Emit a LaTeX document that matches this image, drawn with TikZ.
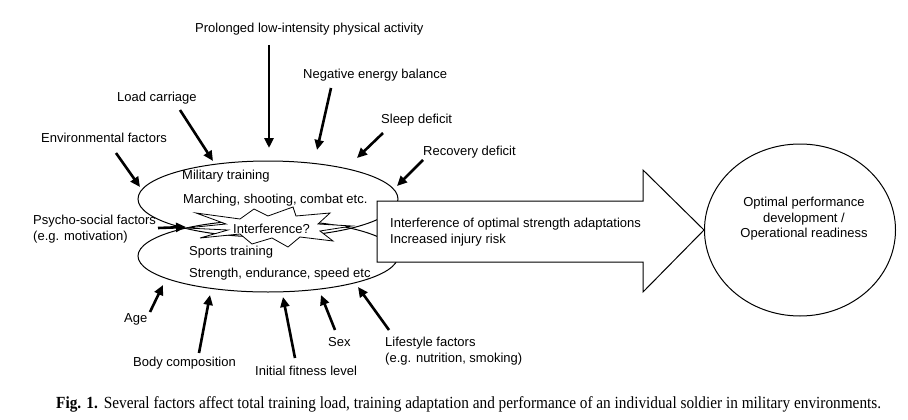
\documentclass[tikz,border=0pt]{standalone}
\usepackage{fontspec}
\setmainfont{Liberation Sans}
\newfontfamily\legende[FakeStretch=0.9]{Liberation Serif}
\usetikzlibrary{arrows.meta,shapes.geometric}
\tikzset{
  etiq/.style={anchor=base west,inner sep=0pt,font=\fontsize{13}{15}\selectfont},
  bloc/.style={anchor=west,inner sep=0pt,align=left,font=\fontsize{13}{15.5}\selectfont},
  pousse/.style={-{Triangle[length=10pt,width=9pt]},line width=2.6pt},
  ovale/.style={draw,ellipse,line width=1pt,minimum width=260pt,minimum height=76pt,inner sep=0pt},
}

\begin{document}
\begin{tikzpicture}[x=1pt,y=-1pt]
  \useasboundingbox[fill=white] (0,0) rectangle (908,420);
  \node[ovale] (mil) at (268,199) {};
  \node[ovale,minimum height=72pt] (spo) at (268,256) {};
  \draw[line width=0.8pt,fill=white] (186,228) -- (226,224) -- (196,213) -- (240,219) -- (254,209) -- (268,216)
    -- (293,207) -- (296,216) -- (330,213) -- (318,224) -- (352,226) -- (320,231) -- (333,241) -- (300,237)
    -- (288,247) -- (272,238) -- (252,244) -- (240,234) -- (200,238) -- (228,230) -- cycle;
  \node[etiq] (inter) at (233,233) {Interference?};
  \node[etiq] (miltxt) at (182,179) {Military training};
  \node[etiq] (milex) at (183,203) {Marching, shooting, combat etc.};
  \node[etiq] (spotxt) at (189,255) {Sports training};
  \node[etiq] (spoex) at (189,277) {Strength, endurance, speed etc};
  \node[draw,ellipse,line width=1pt,minimum width=191pt,minimum height=172pt] (goal) at (800,230) {};
  \node[bloc,anchor=center,align=center] (goaltxt) at (804,219) {Optimal performance\\development /\\Operational readiness};
  \draw[line width=1pt,fill=white] (377,201) -- (643,201) -- (643,170) -- (goal.west) -- (643,292) -- (643,262)
    -- (377,262) -- cycle;
  \node[bloc,font=\fontsize{13}{16}\selectfont] (effet) at (390,232.5) {Interference of optimal strength adaptations\\Increased injury risk};
  \node[etiq] (prol) at (195,33) {Prolonged low-intensity physical activity};
  \node[etiq] (neg) at (303,78) {Negative energy balance};
  \node[etiq] (load) at (117,101) {Load carriage};
  \node[etiq] (sleep) at (381,123) {Sleep deficit};
  \node[etiq] (env) at (41,142) {Environmental factors};
  \node[etiq] (reco) at (423,155) {Recovery deficit};
  \node[bloc] (psy) at (33,229) {Psycho-social factors\\(e.g. motivation)};
  \node[etiq] (age) at (124,322) {Age};
  \node[etiq] (body) at (133,366) {Body composition};
  \node[etiq] (init) at (255,375) {Initial fitness level};
  \node[etiq] (sex) at (328,346) {Sex};
  \node[bloc,font=\fontsize{13}{16}\selectfont] (life) at (385,351.5) {Lifestyle factors\\(e.g. nutrition, smoking)};
  \coordinate (prol-a) at (269,45);  \coordinate (prol-b) at (269,148);
  \coordinate (neg-a) at (331,88);   \coordinate (neg-b) at (317,150);
  \coordinate (load-a) at (180,110); \coordinate (load-b) at (213,161);
  \coordinate (sleep-a) at (383,133); \coordinate (sleep-b) at (357,158);
  \coordinate (env-a) at (116,153);  \coordinate (env-b) at (140,187);
  \coordinate (reco-a) at (423,160); \coordinate (reco-b) at (397,186);
  \coordinate (psy-a) at (158,228);  \coordinate (psy-b) at (186,227);
  \coordinate (age-a) at (150,312);  \coordinate (age-b) at (163,285);
  \coordinate (body-a) at (199,353); \coordinate (body-b) at (210,295);
  \coordinate (init-a) at (295,358); \coordinate (init-b) at (283,297);
  \coordinate (sex-a) at (335,330);  \coordinate (sex-b) at (321,295);
  \coordinate (life-a) at (389,330); \coordinate (life-b) at (358,287);
  \draw[pousse] (prol-a) -- (prol-b);
  \draw[pousse] (neg-a) -- (neg-b);
  \draw[pousse] (load-a) -- (load-b);
  \draw[pousse] (sleep-a) -- (sleep-b);
  \draw[pousse] (env-a) -- (env-b);
  \draw[pousse] (reco-a) -- (reco-b);
  \draw[pousse] (psy-a) -- (psy-b);
  \draw[pousse] (age-a) -- (age-b);
  \draw[pousse] (body-a) -- (body-b);
  \draw[pousse] (init-a) -- (init-b);
  \draw[pousse] (sex-a) -- (sex-b);
  \draw[pousse] (life-a) -- (life-b);
  \node[anchor=base west,inner sep=0pt,font=\legende\fontsize{17}{19}\selectfont] (cap) at (56,408)
    {\textbf{Fig. 1.}\hspace{6pt}Several factors affect total training load, training adaptation and performance of an individual soldier in military environments.};
\end{tikzpicture}
\end{document}
